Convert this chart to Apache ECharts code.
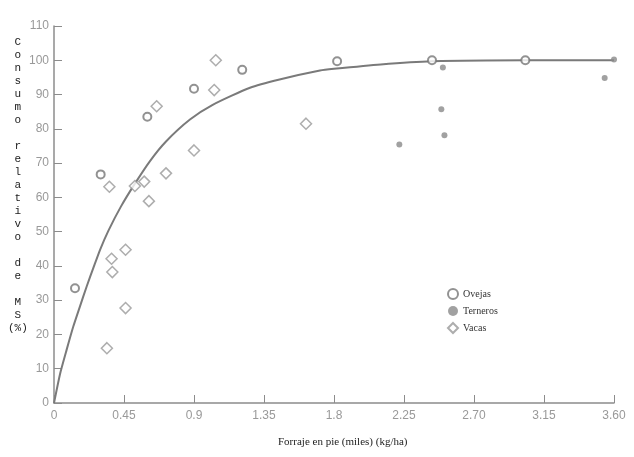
<!DOCTYPE html>
<html>
<head>
<meta charset="utf-8">
<script src="https://cdn.jsdelivr.net/npm/echarts@6/dist/echarts.min.js"></script>
<style>
  html, body { margin: 0; padding: 0; background: #fff; }
  #chart { width: 634px; height: 457px; }
</style>
</head>
<body>
<div id="chart"></div>
<script>
// valores (x en miles kg/ha, y en %)
var ovejas = [[0.135, 33.5], [0.30, 66.7], [0.60, 83.5], [0.90, 91.7], [1.21, 97.2], [1.82, 99.7], [2.43, 100], [3.03, 100]];
var terneros = [[2.22, 75.4], [2.49, 85.7], [2.50, 97.9], [2.51, 78.1], [3.54, 94.8], [3.60, 100.2]];
var vacas = [[0.34, 16.0], [0.356, 63.1], [0.37, 42.1], [0.375, 38.2], [0.46, 44.7], [0.46, 27.7], [0.52, 63.3],
  [0.58, 64.6], [0.61, 58.9], [0.66, 86.6], [0.72, 67.0], [0.90, 73.7], [1.03, 91.3], [1.04, 100], [1.62, 81.5]];
// curva ajustada, puntos leidos sobre la linea
var curva = [[0, 0], [0.04, 8.7], [0.081, 15.5], [0.124, 22.3], [0.167, 28.2], [0.21, 34], [0.253, 39.4], [0.296, 44.7],
  [0.35, 50.3], [0.43, 57.3], [0.52, 64.0], [0.617, 70.6], [0.72, 76.3], [0.874, 82.7], [1.02, 87.0], [1.26, 92],
  [1.45, 94.4], [1.71, 97.0], [1.80, 97.5], [2.10, 98.8], [2.43, 99.7], [3.03, 100], [3.6, 100]];
var xTickLabels = ['0', '0.45', '0.9', '1.35', '1.8', '2.25', '2.70', '3.15', '3.60'];
var seriesNames = ['Ovejas', 'Terneros', 'Vacas'];
var yTitle = 'C\no\nn\ns\nu\nm\no\n\nr\ne\nl\na\nt\ni\nv\no\n\nd\ne\n\nM\nS\n(%)';
var xTitle = 'Forraje en pie (miles) (kg/ha)';

var chart = echarts.init(document.getElementById('chart'));
var axisGray = '#8c8c8c';

var option = {
  backgroundColor: '#fff',
  animation: false,
  grid: { left: 54, right: 20, top: 26, bottom: 54 },
  legend: {
    data: seriesNames,
    orient: 'vertical',
    left: 442,
    top: 283,
    itemWidth: 10,
    itemHeight: 10,
    itemGap: 6,
    textStyle: { fontFamily: 'Liberation Serif', fontSize: 10, color: '#333', lineHeight: 10 }
  },
  xAxis: {
    type: 'value',
    min: 0,
    max: 3.6,
    interval: 0.45,
    axisLine: { lineStyle: { color: axisGray, width: 1.5 } },
    axisTick: { inside: true, length: 8, lineStyle: { color: axisGray } },
    splitLine: { show: false },
    axisLabel: {
      margin: 7,
      color: '#999',
      fontFamily: 'Liberation Sans',
      fontSize: 12,
      formatter: function (v) {
        return xTickLabels[Math.round(v / 0.45)];
      }
    }
  },
  yAxis: {
    type: 'value',
    min: 0,
    max: 110,
    interval: 10,
    axisLine: { show: true, lineStyle: { color: axisGray, width: 1.5 } },
    axisTick: { show: true, inside: true, length: 8, lineStyle: { color: axisGray } },
    splitLine: { show: false },
    axisLabel: { margin: 5, color: '#999', fontFamily: 'Liberation Sans', fontSize: 12 }
  },
  graphic: [
    {
      type: 'text', left: 8, top: 36,
      style: { text: yTitle, fontFamily: 'Liberation Mono', fontSize: 11, lineHeight: 13, fill: '#222', textAlign: 'center' }
    },
    {
      type: 'text', left: 278, top: 437,
      style: { text: xTitle, fontFamily: 'Liberation Serif', fontSize: 11, fill: '#222' }
    }
  ],
  series: [
    {
      name: 'curva',
      type: 'line',
      data: curva,
      smooth: 0.2,
      showSymbol: false,
      lineStyle: { color: '#7a7a7a', width: 2 },
      z: 1
    },
    {
      name: 'Ovejas',
      type: 'scatter',
      data: ovejas,
      symbol: 'circle',
      symbolSize: 8,
      itemStyle: { color: '#fff', borderColor: '#777', borderWidth: 2 },
      z: 3
    },
    {
      name: 'Terneros',
      type: 'scatter',
      data: terneros,
      symbol: 'circle',
      symbolSize: 6,
      clip: false,
      itemStyle: { color: '#8a8a8a' },
      z: 3
    },
    {
      name: 'Vacas',
      type: 'scatter',
      data: vacas,
      symbol: 'diamond',
      symbolSize: 11,
      itemStyle: { color: '#fff', borderColor: '#999', borderWidth: 1.5 },
      z: 3
    }
  ]
};

chart.setOption(option);
</script>
</body>
</html>
